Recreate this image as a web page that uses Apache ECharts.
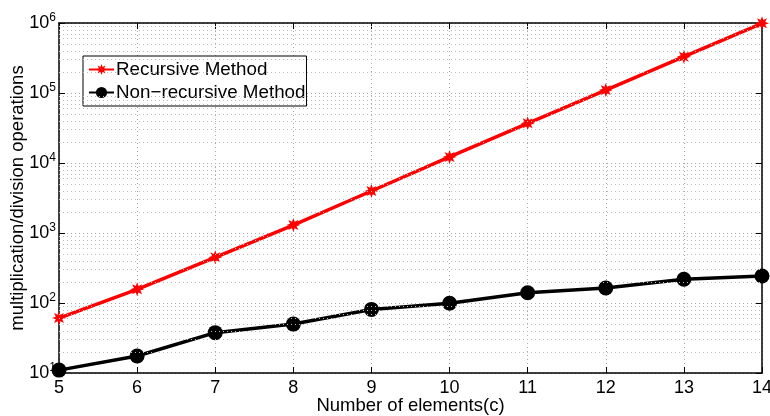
<!DOCTYPE html>
<html>
<head>
<meta charset="utf-8">
<script src="https://cdn.jsdelivr.net/npm/echarts@6/dist/echarts.min.js"></script>
<style>
  html, body { margin: 0; padding: 0; background: #fff; }
  #chart { width: 770px; height: 416px; }
</style>
</head>
<body>
<div id="chart"></div>
<script>
// values
const elements = [5, 6, 7, 8, 9, 10, 11, 12, 13, 14]
const recursive = [61, 157, 450, 1300, 3980, 12200, 36900, 110000, 330000, 990000]
const nonRecursive = [11, 17.5, 37.7, 50, 81, 99, 140, 164, 218, 243]
const decades = [1, 2, 3, 4, 5, 6]
const minorSteps = [2, 3, 4, 5, 6, 7, 8, 9]

const font = 'Liberation Sans, Arial, Helvetica, sans-serif'

// 8-armed asterisk like matlab's '*' marker
let star = 'path://'
for (let i = 0; i < 16; i++) {
  const a = Math.PI * i / 8
  const r = i % 2 === 0 ? 10 : 5
  star += (i === 0 ? 'M' : 'L') + (r * Math.sin(a)).toFixed(2) + ',' + (-r * Math.cos(a)).toFixed(2)
}
star += 'Z'

// dotted minor grid lines at 2..9 x 10^k
const minorLines = []
decades.slice(0, -1).forEach(k => {
  minorSteps.forEach(m => minorLines.push({ yAxis: m * Math.pow(10, k) }))
})

const chart = echarts.init(document.getElementById('chart'))

const supLabel = v => {
  const e = Math.round(Math.log10(v))
  return '10{sup|' + e + '}'
}

chart.setOption({
  animation: false,
  textStyle: { fontFamily: font },
  grid: { left: 59, right: 8, top: 23, bottom: 43, show: false, outerBoundsMode: 'none', containLabel: false },
  legend: {
    data: ['Recursive Method', 'Non−recursive Method'],
    orient: 'vertical',
    left: 83,
    top: 56,
    itemWidth: 25,
    itemHeight: 14,
    itemGap: 4,
    padding: [4, 1, 4, 5],
    borderColor: '#000',
    borderWidth: 1,
    borderRadius: 0,
    backgroundColor: '#fff',
    textStyle: { fontFamily: font, fontSize: 18.8, color: '#000', padding: [0, 0, 0, -3] }
  },
  xAxis: [{
    type: 'value',
    min: 5,
    max: 14,
    interval: 1,
    name: 'Number of elements(c)',
    nameLocation: 'middle',
    nameGap: 23,
    nameMoveOverlap: false,
    nameTextStyle: { fontFamily: font, fontSize: 18.5, color: '#000' },
    axisLine: { lineStyle: { color: '#000', width: 1.5 } },
    axisTick: { inside: true, length: 6, lineStyle: { color: '#000' } },
    axisLabel: { fontFamily: font, fontSize: 18, color: '#000', margin: 6 },
    splitLine: { show: true, lineStyle: { type: [1, 3], color: '#aaa' } }
  }, {
    type: 'value',
    position: 'top',
    min: 5,
    max: 14,
    interval: 1,
    axisLine: { lineStyle: { color: '#000', width: 1.5 } },
    axisTick: { inside: true, length: 6, lineStyle: { color: '#000' } },
    axisLabel: { show: false },
    splitLine: { show: false }
  }],
  yAxis: [{
    type: 'log',
    logBase: 10,
    min: 10,
    max: 1e6,
    interval: 1,
    name: 'multiplication/division operations',
    nameLocation: 'middle',
    nameGap: 32,
    nameMoveOverlap: false,
    nameTextStyle: { fontFamily: font, fontSize: 18.5, color: '#000' },
    axisLine: { show: true, lineStyle: { color: '#000', width: 1.5 } },
    axisTick: { inside: true, length: 6, lineStyle: { color: '#000' } },
    axisLabel: {
      formatter: supLabel,
      margin: 3,
      fontFamily: font,
      fontSize: 18,
      color: '#000',
      rich: {
        sup: { fontSize: 12, fontFamily: font, color: '#000', verticalAlign: 'top', padding: [0, 0, 10, 0] }
      }
    },
    splitLine: { show: true, lineStyle: { type: [1, 3], color: '#aaa' } }
  }, {
    type: 'log',
    logBase: 10,
    min: 10,
    max: 1e6,
    interval: 1,
    position: 'right',
    axisLine: { show: true, lineStyle: { color: '#000', width: 1.5 } },
    axisTick: { inside: true, length: 6, lineStyle: { color: '#000' } },
    axisLabel: { show: false },
    splitLine: { show: false }
  }],
  series: [
    {
      name: 'grid',
      type: 'line',
      data: [],
      silent: true,
      z: 0,
      markLine: {
        silent: true,
        symbol: 'none',
        label: { show: false },
        lineStyle: { type: [1, 3], color: '#bbb', width: 1 },
        data: minorLines
      }
    },
    {
      name: 'Recursive Method',
      type: 'line',
      data: elements.map((c, i) => [c, recursive[i]]),
      symbol: star,
      symbolSize: 14,
      color: '#ff0000',
      lineStyle: { color: '#ff0000', width: 3.5 },
      itemStyle: { color: '#ff0000' },
      z: 3
    },
    {
      name: 'Non−recursive Method',
      type: 'line',
      data: elements.map((c, i) => [c, nonRecursive[i]]),
      symbol: 'circle',
      symbolSize: 15,
      color: '#000',
      lineStyle: { color: '#000', width: 3.5 },
      itemStyle: { color: '#000' },
      z: 3
    }
  ]
})
</script>
</body>
</html>
